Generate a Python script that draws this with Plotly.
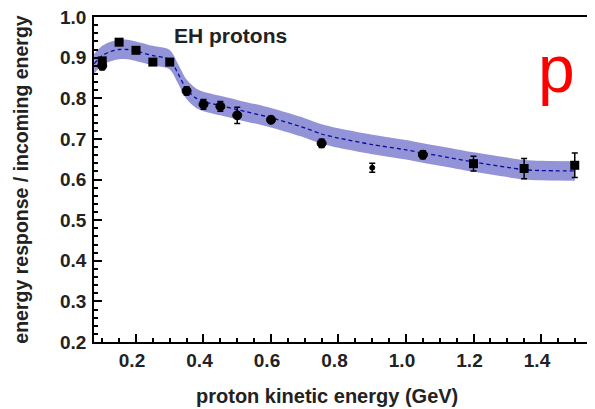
import plotly.graph_objects as go

# Model band (centre line and half-width)
model_x = [0.076, 0.1, 0.125, 0.15, 0.175, 0.2, 0.25, 0.3, 0.325, 0.35, 0.375, 0.4, 0.45, 0.5,
           0.6, 0.7, 0.75, 0.8, 0.9, 1.0, 1.05, 1.1, 1.2, 1.3, 1.35, 1.4, 1.5]
model_y = [0.885, 0.905, 0.915, 0.92, 0.92, 0.916, 0.905, 0.895, 0.86, 0.822, 0.802, 0.792, 0.782, 0.772,
           0.752, 0.727, 0.712, 0.702, 0.686, 0.673, 0.665, 0.658, 0.643, 0.630, 0.624, 0.622, 0.621]
model_err = [0.024] * len(model_x)

# Data: circles
circ_x = [0.1, 0.35, 0.4, 0.45, 0.5, 0.6, 0.75, 0.9, 1.05]
circ_y = [0.88, 0.818, 0.785, 0.78, 0.758, 0.747, 0.689, 0.629, 0.661]
circ_err = [0.01, 0.01, 0.012, 0.012, 0.02, 0.008, 0.01, 0.011, 0.01]

# Data: squares
sq_x = [0.1, 0.15, 0.2, 0.25, 0.3, 1.2, 1.35, 1.5]
sq_y = [0.892, 0.938, 0.918, 0.889, 0.889, 0.639, 0.627, 0.635]
sq_err = [0.005, 0.005, 0.005, 0.005, 0.005, 0.018, 0.025, 0.03]

x_ticks = [0.2, 0.4, 0.6, 0.8, 1.0, 1.2, 1.4]
y_ticks = [0.2, 0.3, 0.4, 0.5, 0.6, 0.7, 0.8, 0.9, 1.0]

upper = [m + e for m, e in zip(model_y, model_err)]
lower = [m - e for m, e in zip(model_y, model_err)]

FONT = "Liberation Sans"
TXT = "#222"

fig = go.Figure()
fig.add_trace(go.Scatter(x=model_x, y=lower, mode="lines", line=dict(width=0, shape="spline", smoothing=0.8),
                         showlegend=False, hoverinfo="skip"))
fig.add_trace(go.Scatter(x=model_x, y=upper, mode="lines", line=dict(width=0, shape="spline", smoothing=0.8),
                         fill="tonexty", fillcolor="rgba(120,120,205,0.8)",
                         showlegend=False, hoverinfo="skip"))
fig.add_trace(go.Scatter(x=model_x, y=model_y, mode="lines",
                         line=dict(color="#0c0c9c", width=1.3, dash="4px,3px", shape="spline", smoothing=0.8),
                         showlegend=False))
fig.add_trace(go.Scatter(x=circ_x, y=circ_y, mode="markers",
                         marker=dict(symbol="circle", size=[9, 9, 9, 9, 9, 9, 9, 5, 9], color="black",
                                     opacity=1, line=dict(width=1, color="black")),
                         error_y=dict(type="data", array=circ_err, color="black", thickness=1.5, width=3),
                         showlegend=False))
fig.add_trace(go.Scatter(x=sq_x, y=sq_y, mode="markers",
                         marker=dict(symbol="square", size=9, color="black", opacity=1, line=dict(width=0)),
                         error_y=dict(type="data", array=sq_err, color="black", thickness=1.5, width=3),
                         showlegend=False))

fig.add_annotation(x=0.307, y=0.955, xref="x", yref="y", text="<b>EH protons</b>", showarrow=False,
                   xanchor="left", yanchor="middle", font=dict(family=FONT, size=21, color=TXT))
fig.add_annotation(x=0.924, y=0.84, xref="paper", yref="paper", text="p", showarrow=False,
                   xanchor="center", yanchor="middle", font=dict(family=FONT, size=66, color="red"))
# x-axis title (the original frame extends past the right edge, so the title sits left of centre)
fig.add_annotation(x=0.465, y=-0.165, xref="paper", yref="paper", text="<b>proton kinetic energy (GeV)</b>",
                   showarrow=False, xanchor="center", yanchor="middle",
                   font=dict(family=FONT, size=20, color=TXT))

tick_font = dict(family=FONT, size=19, color=TXT)
fig.update_layout(
    width=587, height=401, margin=dict(l=86, r=0, t=9, b=67),
    paper_bgcolor="white", plot_bgcolor="white",
    xaxis=dict(range=[0.0756, 1.56], tickvals=x_ticks, ticktext=[f"<b>{v:.1f}</b>" for v in x_ticks],
               automargin=False, ticklabeloverflow="allow", ticklabelshift=-4,
               showgrid=False, zeroline=False, showline=True, linecolor="black", linewidth=1.5, mirror=True,
               ticks="inside", ticklen=8, tickcolor="black", tickwidth=1.5, tickfont=tick_font,
               minor=dict(dtick=0.05, ticks="inside", ticklen=4, tickcolor="black", tickwidth=1.5)),
    yaxis=dict(range=[0.2, 1.0], tickvals=y_ticks, ticktext=[f"<b>{v:.1f}</b>" for v in y_ticks],
               automargin=False, ticklabeloverflow="allow", ticklabelstandoff=2,
               showgrid=False, zeroline=False, showline=True, linecolor="black", linewidth=1.5, mirror=False,
               ticks="inside", ticklen=8, tickcolor="black", tickwidth=1.5, tickfont=tick_font,
               minor=dict(dtick=0.02, ticks="inside", ticklen=4, tickcolor="black", tickwidth=1.5),
               title=dict(text="<b>energy response / incoming energy</b>", font=dict(family=FONT, size=19.5, color=TXT), standoff=26)),
)
fig.write_html("out.html")
